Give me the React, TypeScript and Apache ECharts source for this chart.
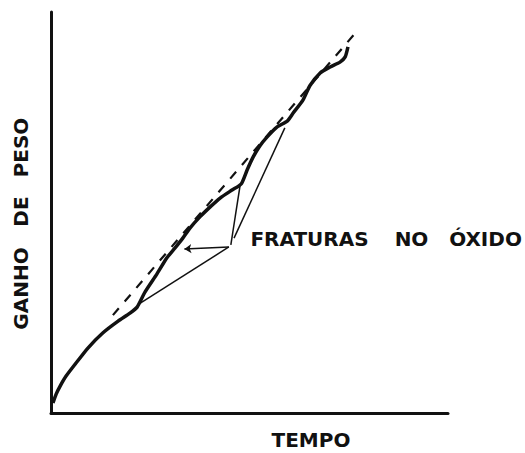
import React, { useEffect, useRef } from "react";
import * as echarts from "echarts";

// Weight-gain curve (arbitrary units, 0-100 on both axes)
const curveTime = [0.5, 1.3, 2.3, 3.8, 6.1, 9.3, 13.1, 16.9, 19.9, 21.7, 23.7, 26.7, 29.2, 31.2, 33.2, 35.0, 37.5, 40.1, 42.6, 45.6, 47.9, 49.4, 50.9, 52.6, 54.4, 56.9, 59.5, 61.0, 63.5, 65.2, 67.8, 70.3, 72.8, 74.1, 74.8];
const curveGain = [2.5, 4.7, 6.7, 9.2, 12.2, 16.2, 20.0, 22.9, 24.9, 26.4, 30.2, 34.7, 38.7, 41.1, 43.6, 46.1, 48.9, 51.4, 53.6, 55.6, 57.1, 60.6, 63.8, 66.6, 68.8, 71.3, 72.8, 74.8, 78.1, 81.6, 84.8, 86.3, 87.5, 88.8, 91.3];

// Linear trend (dashed)
const trendTime = [15.6, 77.3];
const trendGain = [24.4, 95.5];

// Pointer lines from the label to the fracture points
const pointerFromTime = [44.8, 45.3, 46.1];
const pointerFromGain = [41.4, 41.9, 43.6];
const pointerToTime = [22.2, 47.6, 58.9];
const pointerToGain = [27.2, 56.6, 71.1];
const arrowFrom = [44.8, 41.4];
const arrowTo = [33.6, 40.9];

const labelWords = ["FRATURAS", "NO", "ÓXIDO"];
const yTitleWords = ["GANHO", "DE", "PESO"];
const xTitle = "TEMPO";

const INK = "#111";
const FONT = 'bold 20px "DejaVu Sans", sans-serif';

export default function App() {
  const ref = useRef<HTMLDivElement>(null);
  useEffect(() => {
    if (!ref.current) return;
    const chart = echarts.init(ref.current, undefined, { renderer: "svg" });
    const curve = curveTime.map((t, i) => [t, curveGain[i]]);
    const trend = trendTime.map((t, i) => [t, trendGain[i]]);
    const pointers = pointerFromTime.map((t, i) => ({
      coords: [
        [t, pointerFromGain[i]],
        [pointerToTime[i], pointerToGain[i]],
      ],
    }));
    const labelX = [309.5, 411.5, 485.5];
    const yX = [288.5, 211.5, 147.5];
    chart.setOption({
      animation: false,
      backgroundColor: "#fff",
      grid: { left: 51, top: 12, right: 77, bottom: 40 },
      xAxis: {
        type: "value",
        min: 0,
        max: 100,
        axisLine: { show: true, lineStyle: { color: INK, width: 3 } },
        axisTick: { show: false },
        axisLabel: { show: false },
        splitLine: { show: false },
      },
      yAxis: {
        type: "value",
        min: 0,
        max: 100,
        axisLine: { show: true, lineStyle: { color: INK, width: 3 } },
        axisTick: { show: false },
        axisLabel: { show: false },
        splitLine: { show: false },
      },
      series: [
        {
          type: "line",
          data: trend,
          symbol: "none",
          lineStyle: { color: INK, width: 2.2, type: [9, 9] },
          z: 1,
        },
        {
          type: "line",
          data: curve,
          symbol: "none",
          smooth: 0.2,
          lineStyle: { color: INK, width: 3.5 },
          z: 2,
        },
        {
          type: "lines",
          coordinateSystem: "cartesian2d",
          data: pointers,
          symbol: "none",
          lineStyle: { color: INK, width: 1.5, opacity: 1 },
          z: 3,
        },
        {
          type: "lines",
          coordinateSystem: "cartesian2d",
          data: [{ coords: [arrowFrom, arrowTo] }],
          symbol: ["none", "arrow"],
          symbolSize: 7,
          lineStyle: { color: INK, width: 1.5, opacity: 1 },
          z: 3,
        },
      ],
      graphic: [
        ...labelWords.map((w, i) => ({
          type: "text",
          x: labelX[i],
          y: 239,
          style: { text: w, font: FONT, fill: INK, textAlign: "center", textVerticalAlign: "middle" },
        })),
        ...yTitleWords.map((w, i) => ({
          type: "text",
          x: 21,
          y: yX[i],
          rotation: Math.PI / 2,
          style: { text: w, font: FONT, fill: INK, textAlign: "center", textVerticalAlign: "middle" },
        })),
        {
          type: "text",
          x: 311,
          y: 440,
          style: { text: xTitle, font: FONT, fill: INK, textAlign: "center", textVerticalAlign: "middle" },
        },
      ],
    });
    return () => chart.dispose();
  }, []);
  return (
    <div
      ref={ref}
      style={{ position: "fixed", left: 0, top: 0, width: 525, height: 453 }}
    />
  );
}
